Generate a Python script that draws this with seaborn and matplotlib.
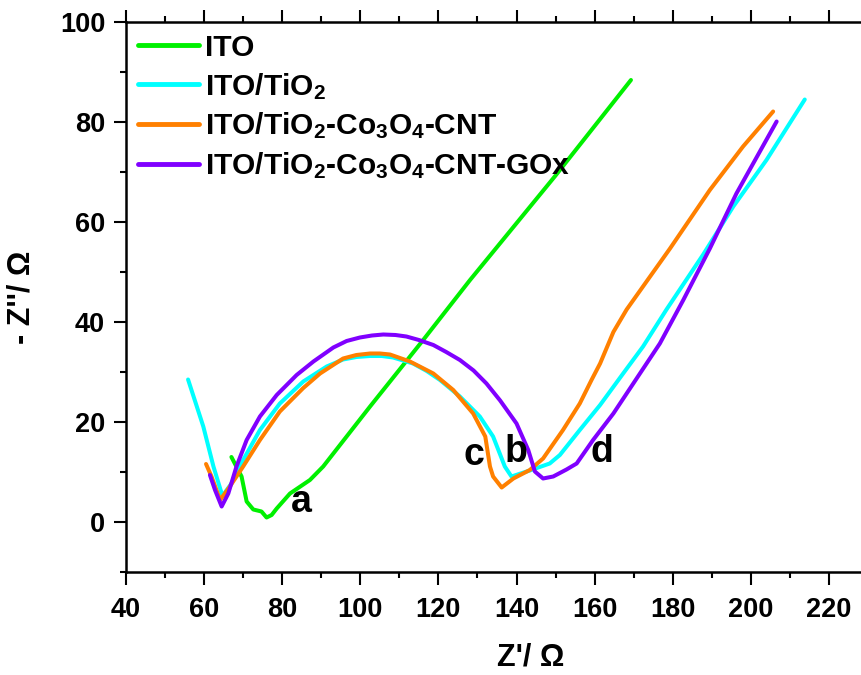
import pandas as pd
import seaborn as sns
import matplotlib.pyplot as plt
from matplotlib.ticker import MultipleLocator

# Nyquist data (Z' in ohm, -Z'' in ohm)
ito_x = [67.0, 69.6, 70.9, 72.6, 74.7, 76.0, 77.3, 78.6, 82.0, 87.1, 90.5,
         102.5, 116.1, 128.1, 150.0, 169.3]
ito_y = [13.0, 9.1, 4.1, 2.5, 2.1, 0.9, 1.4, 2.7, 5.7, 8.4, 11.1,
         23.1, 36.4, 48.4, 69.3, 88.4]

tio2_x = [55.9, 59.8, 62.4, 64.7, 67.0, 70.0, 74.3, 79.4, 85.4, 91.4, 95.6,
          99.0, 102.5, 105.5, 108.4, 113.5, 117.0, 120.4, 125.5, 130.6, 134.0,
          137.0, 138.7, 143.4, 148.5, 151.1, 156.2, 161.4, 167.3, 172.4, 178.4,
          187.8, 195.5, 204.0, 213.8]
tio2_y = [28.5, 19.1, 11.1, 5.2, 7.7, 12.4, 18.4, 23.7, 28.1, 31.1, 32.5,
          33.0, 33.2, 33.2, 32.9, 31.7, 30.2, 28.4, 25.1, 21.1, 17.1,
          11.1, 9.1, 10.3, 11.7, 13.4, 18.4, 23.4, 29.7, 35.1, 42.5,
          53.5, 63.1, 72.4, 84.5]

cnt_x = [60.5, 61.9, 64.1, 66.6, 70.0, 74.3, 79.4, 85.4, 89.7, 95.6, 99.0,
         102.5, 105.0, 107.6, 112.7, 118.7, 123.8, 128.9, 132.0, 133.2, 134.0,
         136.2, 139.2, 143.4, 146.8, 151.9, 156.2, 159.2, 161.4, 164.8, 168.2,
         174.2, 179.3, 189.5, 198.0, 205.7]
cnt_y = [11.6, 9.1, 4.4, 7.1, 11.1, 16.4, 22.1, 26.8, 29.7, 32.7, 33.4,
         33.7, 33.7, 33.5, 32.1, 29.7, 26.4, 21.7, 17.1, 11.1, 9.1,
         6.9, 8.7, 10.4, 12.7, 18.4, 23.7, 28.4, 31.7, 38.0, 42.5,
         49.1, 54.7, 66.4, 75.1, 82.1]

gox_x = [61.5, 62.8, 64.5, 66.2, 68.3, 70.9, 74.3, 78.6, 83.7, 88.0, 93.1,
         96.5, 99.9, 103.0, 105.9, 109.0, 111.8, 115.0, 118.7, 122.0, 125.5,
         129.0, 132.3, 135.8, 140.0, 143.0, 144.7, 146.8, 149.4, 152.8, 155.4,
         159.6, 164.8, 169.9, 176.7, 182.7, 189.5, 196.3, 206.6]
gox_y = [9.4, 6.4, 3.1, 5.7, 11.1, 16.4, 21.1, 25.4, 29.4, 32.1, 34.9,
         36.2, 36.9, 37.3, 37.5, 37.4, 37.1, 36.4, 35.4, 34.0, 32.4,
         30.3, 27.7, 24.3, 19.7, 14.4, 10.1, 8.7, 9.1, 10.5, 11.7,
         16.4, 21.7, 27.7, 35.7, 44.4, 54.7, 65.7, 80.1]

labels = ["ITO",
          r"ITO/TiO$_\mathbf{2}$",
          r"ITO/TiO$_\mathbf{2}$-Co$_\mathbf{3}$O$_\mathbf{4}$-CNT",
          r"ITO/TiO$_\mathbf{2}$-Co$_\mathbf{3}$O$_\mathbf{4}$-CNT-GOx"]
colors = ["#00F000", "#00FFFF", "#FF8000", "#8000FF"]

# curve letters and where they sit
tags = ["a", "b", "c", "d"]
tag_x = [85.0, 139.8, 129.0, 161.9]
tag_y = [4.0, 14.0, 13.4, 14.0]

frames = []
for name, xs, ys in zip(labels, [ito_x, tio2_x, cnt_x, gox_x],
                        [ito_y, tio2_y, cnt_y, gox_y]):
    frames.append(pd.DataFrame({"x": xs, "y": ys, "sample": name}))
df = pd.concat(frames, ignore_index=True)

sns.set_style("ticks")
plt.rcParams['font.family'] = ['Liberation Sans', 'DejaVu Sans']
plt.rcParams['font.weight'] = 'bold'
plt.rcParams['text.color'] = 'black'
plt.rcParams['axes.labelcolor'] = 'black'
plt.rcParams['mathtext.fontset'] = 'custom'
plt.rcParams['mathtext.rm'] = 'Liberation Sans'
plt.rcParams['mathtext.bf'] = 'Liberation Sans:bold'
plt.rcParams['mathtext.it'] = 'Liberation Sans:italic'

fig = plt.figure(figsize=(8.61, 6.75), dpi=100)
ax = fig.add_axes([0.1463, 0.1526, 0.8537, 0.8148])

sns.lineplot(data=df, x="x", y="y", hue="sample", units="sample",
             estimator=None, sort=False, palette=dict(zip(labels, colors)),
             linewidth=2.9, ax=ax)

ax.set_xlim(40, 228.2)
ax.set_ylim(-10, 100)
ax.xaxis.set_major_locator(MultipleLocator(20))
ax.xaxis.set_minor_locator(MultipleLocator(10))
ax.yaxis.set_major_locator(MultipleLocator(20))
ax.yaxis.set_minor_locator(MultipleLocator(10))

ax.tick_params(which='major', direction='out', length=9, width=1.5,
               labelsize=19.5, colors='black', pad=6)
ax.tick_params(which='minor', direction='out', length=4.5, width=1.5,
               colors='black')
ax.tick_params(axis='x', which='both', top=True, labeltop=False)
ax.tick_params(axis='x', which='major', pad=9)
for t in ax.get_xticklabels() + ax.get_yticklabels():
    t.set_fontweight('bold')

for side in ['left', 'bottom', 'top']:
    ax.spines[side].set_linewidth(1.8)
    ax.spines[side].set_color('black')
ax.spines['right'].set_visible(False)

ax.set_xlabel("Z'/ Ω", fontsize=22, fontweight='bold')
ax.set_ylabel("- Z''/ Ω", fontsize=22, fontweight='bold')
ax.xaxis.set_label_coords(0.55, -0.128)
ax.yaxis.set_label_coords(-0.122, 0.5)

for t, tx, ty in zip(tags, tag_x, tag_y):
    ax.text(tx, ty, t, fontsize=27, fontweight='bold', ha='center',
            va='center')

leg = ax.legend(loc='upper left', frameon=False, fontsize=21.5,
                handlelength=2.05, handletextpad=0.2, labelspacing=0.3,
                borderaxespad=0.1, borderpad=0.3, title=None)
for line in leg.get_lines():
    line.set_linewidth(3.5)

fig.savefig("out.png", dpi=100)
